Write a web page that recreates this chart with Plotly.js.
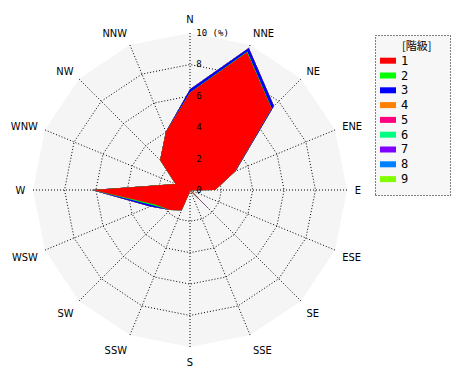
<!DOCTYPE html>
<html><head><meta charset="utf-8">
<script src="https://cdn.plot.ly/plotly-3.0.1.min.js"></script>
<style>body{margin:0;background:#fff}#c{width:470px;height:380px}</style>
</head><body><div id="c"></div>
<script>
const directions = ['N','NNE','NE','ENE','E','ESE','SE','SSE','S','SSW','SW','WSW','W','WNW','NW','NNW'];
const classNames = ['1','2','3','4','5','6','7','8','9'];
const classColors = ['#ff0000','#00ff00','#0000ff','#ff8000','#ff0080','#00ff80','#8000ff','#0080ff','#80ff00'];
// frequency (%) per direction for each class
const class1 = [6.2, 9.5, 7.35, 3.1, 1.6, 0.05, 1.3, 0.05, 0.1, 1.4, 1.8, 2.4, 6.2, 1.0, 2.7, 4.0];
const class2 = [0.02, 0.05, 0.02, 0.0, 0.0, 0.0, 0.0, 0.0, 0.0, 0.0, 0.0, 0.15, 0.03, 0.0, 0.0, 0.0];
const class3 = [0.2, 0.25, 0.2, 0.05, 0.0, 0.0, 0.5, 0.0, 0.0, 0.0, 0.0, 0.2, 0.03, 0.0, 0.0, 0.02];
const class4 = [0,0,0,0,0,0,0,0,0,0,0,0,0,0,0,0];
const class5 = [0,0,0,0,0,0,0,0,0,0,0,0,0,0,0,0];
const class6 = [0,0,0,0,0,0,0,0,0,0,0,0,0,0,0,0];
const class7 = [0,0,0,0,0,0,0,0,0,0,0,0,0,0,0,0];
const class8 = [0,0,0,0,0,0,0,0,0,0,0,0,0,0,0,0];
const class9 = [0,0,0,0,0,0,0,0,0,0,0,0,0,0,0,0];
const radialTicks = [0, 2, 4, 6, 8, 10];
const radialTickText = ['0', '2', '4', '6', '8', '10 (%)'];
const legendTitle = '[階級]';

const classes = [class1,class2,class3,class4,class5,class6,class7,class8,class9];
// cumulative sums
const cum = [];
let run = directions.map(() => 0);
classes.forEach(c => { run = run.map((v, i) => v + c[i]); cum.push(run.slice()); });

const traces = [];
for (let k = classes.length - 1; k >= 0; k--) {
  traces.push({
    type: 'scatterpolar', mode: 'lines', fill: 'toself',
    r: cum[k], theta: directions,
    fillcolor: classColors[k], line: {color: classColors[k], width: 0},
    showlegend: false, hoverinfo: 'skip', name: classNames[k]
  });
}

const W = 470, H = 380;
const px = x => x / W, py = y => 1 - y / H;
const shapes = [{
  type: 'rect', xref: 'paper', yref: 'paper',
  x0: px(375.5), x1: px(450.5), y0: py(195.5), y1: py(35.5),
  fillcolor: '#f7f7f7', line: {color: '#000', width: 1, dash: '1px,2px'}, layer: 'below'
}];
const annotations = [{
  xref: 'paper', yref: 'paper', x: px(416), y: py(45), text: legendTitle, showarrow: false,
  xanchor: 'center', yanchor: 'middle', font: {family: 'Noto Sans CJK JP', size: 11, color: '#000'}
}];
classNames.forEach((n, i) => {
  const yc = 60.7 + i * 14.8;
  shapes.push({type: 'line', xref: 'paper', yref: 'paper', x0: px(380), x1: px(396), y0: py(yc), y1: py(yc),
    line: {color: classColors[i], width: 6}});
  annotations.push({xref: 'paper', yref: 'paper', x: px(399), y: py(yc), text: n, showarrow: false,
    xanchor: 'left', yanchor: 'middle', font: {family: 'DejaVu Sans Mono', size: 12, color: '#000'}});
});

const layout = {
  width: W, height: H, margin: {l: 0, r: 0, t: 0, b: 0},
  paper_bgcolor: '#fff', showlegend: false,
  polar: {
    domain: {x: [33 / W, 347 / W], y: [33 / H, 347 / H]},
    gridshape: 'linear', bgcolor: '#f5f5f5',
    radialaxis: {
      range: [0, 10.01], tickvals: radialTicks, ticktext: radialTickText, angle: 90, tickangle: 90,
      side: 'clockwise',
      showline: false, ticks: 'outside', ticklen: 4, tickcolor: 'rgba(0,0,0,0)',
      gridcolor: '#000', griddash: '1px,2px', gridwidth: 1,
      tickfont: {family: 'DejaVu Sans Mono', size: 9, color: '#000'}, layer: 'above traces'
    },
    angularaxis: {
      type: 'category', categoryarray: directions, rotation: 90, direction: 'clockwise',
      showline: false, ticks: 'outside', ticklen: 5, tickcolor: 'rgba(0,0,0,0)',
      gridcolor: '#000', griddash: '1px,2px', gridwidth: 1,
      tickfont: {family: 'Liberation Sans Narrow, DejaVu Sans Condensed, sans-serif', size: 11, color: '#000'},
      layer: 'above traces'
    }
  },
  shapes: shapes, annotations: annotations
};
Plotly.newPlot('c', traces, layout, {staticPlot: true, displayModeBar: false});
</script></body></html>
